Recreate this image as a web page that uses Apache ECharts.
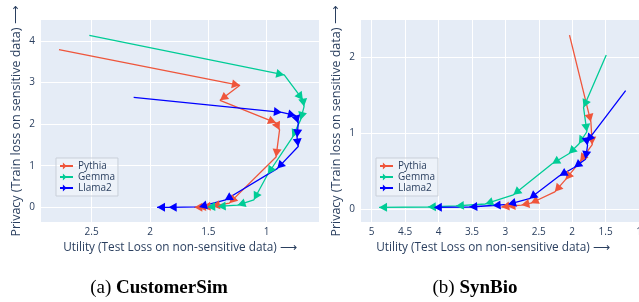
<!DOCTYPE html>
<html>
<head>
<meta charset="utf-8">
<script src="https://cdn.jsdelivr.net/npm/echarts@6/dist/echarts.min.js"></script>
<style>
  html, body { margin: 0; padding: 0; background: #fff; }
  #main { width: 639px; height: 302px; }
</style>
</head>
<body>
<div id="main"></div>
<script>
// (a) CustomerSim - points in the order they were trained
var pythiaSimX = [2.78, 1.23, 1.40, 0.92, 0.89, 0.92, 1.32, 1.47, 1.55, 1.59, 1.62];
var pythiaSimY = [3.79, 2.93, 2.57, 2.03, 1.86, 1.21, 0.10, 0.03, 0.01, 0.00, 0.00];
var gemmaSimX  = [2.52, 0.85, 0.69, 0.68, 0.71, 0.78, 0.99, 1.11, 1.25, 1.42, 1.51];
var gemmaSimY  = [4.13, 3.18, 2.58, 2.42, 2.10, 1.68, 0.80, 0.18, 0.05, 0.02, 0.01];
var llamaSimX  = [2.14, 0.87, 0.75, 0.73, 0.74, 0.73, 0.91, 1.36, 1.58, 1.84, 1.94];
var llamaSimY  = [2.64, 2.28, 2.20, 2.02, 1.68, 1.46, 0.93, 0.17, 0.01, 0.00, 0.00];

// (b) SynBio
var pythiaBioX = [2.04, 1.72, 1.70, 1.88, 2.10, 2.26, 2.62, 2.76, 2.97, 3.06];
var pythiaBioY = [2.29, 1.15, 0.85, 0.63, 0.39, 0.23, 0.08, 0.055, 0.04, 0.03];
var gemmaBioX  = [1.49, 1.83, 1.78, 1.90, 2.05, 2.30, 2.88, 3.30, 3.74, 4.16, 4.89];
var gemmaBioY  = [2.03, 1.34, 1.02, 0.86, 0.73, 0.60, 0.19, 0.07, 0.045, 0.03, 0.025];
var llamaBioX  = [1.20, 1.78, 1.77, 1.80, 1.97, 2.19, 2.64, 2.96, 3.19, 3.54, 4.07];
var llamaBioY  = [1.56, 0.89, 0.84, 0.66, 0.55, 0.44, 0.14, 0.065, 0.05, 0.03, 0.025];

var modelNames = ['Pythia', 'Gemma', 'Llama2'];
var colors = ['#EF553B', '#00CC96', '#0000FF'];

var xTitle = 'Utility (Test Loss on non-sensitive data) ⟶';
var yTitle = 'Privacy (Train loss on sensitive data) ⟶';

var font = '"Open Sans", verdana, arial, sans-serif';
var txt = '#2a3f5f';
// arrow head, tip at the centre of the box
var arrow = 'path://M0,0L-8,-4.5L-8,4.5ZM8,0L8,0.001';

var chart = echarts.init(document.getElementById('main'));

function pairs(xs, ys) {
    var out = [];
    for (var i = 0; i < xs.length; i++) out.push([xs[i], ys[i]]);
    return out;
}

function xAx(gi, min, max, split, pad, showMin) {
    return {
        type: 'value', gridIndex: gi, inverse: true, min: min, max: max, splitNumber: split,
        axisLine: {show: false}, axisTick: {show: false},
        axisLabel: {fontSize: 10, color: txt, fontFamily: font, margin: 5,
                    showMinLabel: showMin, showMaxLabel: false},
        splitLine: {lineStyle: {color: '#fff', width: 1}, showMinLine: false, showMaxLine: false},
        name: xTitle, nameLocation: 'middle', nameGap: 19,
        nameTextStyle: {fontSize: 11.8, color: txt, fontFamily: font, padding: pad}
    };
}

function yAx(gi, min, max, split) {
    return {
        type: 'value', gridIndex: gi, min: min, max: max, splitNumber: split,
        axisLine: {show: false}, axisTick: {show: false},
        axisLabel: {fontSize: 10, color: txt, fontFamily: font, margin: 6,
                    showMinLabel: false, showMaxLabel: false},
        splitLine: {lineStyle: {color: '#fff', width: 1}, showMinLine: false, showMaxLine: false},
        name: yTitle, nameLocation: 'middle', nameGap: 18,
        nameTextStyle: {fontSize: 12.5, color: txt, fontFamily: font}
    };
}

function line(name, gi, xs, ys, c) {
    return {
        name: name, type: 'line', xAxisIndex: gi, yAxisIndex: gi,
        data: pairs(xs, ys),
        symbol: arrow, symbolSize: [16, 9],
        lineStyle: {color: c, width: 1.3},
        itemStyle: {color: c, borderWidth: 0},
        emphasis: {disabled: true},
        z: 3
    };
}

function legendAt(left, top) {
    return {
        data: modelNames, orient: 'vertical', left: left, top: top,
        itemWidth: 13, itemHeight: 9, itemGap: 1, padding: [3, 3, 3, 3],
        backgroundColor: 'rgba(255,255,255,0.3)', borderColor: '#c9cfd9', borderWidth: 1,
        textStyle: {fontSize: 10, color: txt, fontFamily: font},
        selectedMode: false
    };
}

var series = [
    line('Pythia', 0, pythiaSimX, pythiaSimY, colors[0]),
    line('Gemma', 0, gemmaSimX, gemmaSimY, colors[1]),
    line('Llama2', 0, llamaSimX, llamaSimY, colors[2]),
    line('Pythia', 1, pythiaBioX, pythiaBioY, colors[0]),
    line('Gemma', 1, gemmaBioX, gemmaBioY, colors[1]),
    line('Llama2', 1, llamaBioX, llamaBioY, colors[2])
];

var captionRich = {
    n: {fontSize: 19, fontFamily: '"Liberation Serif", serif', fill: '#000'},
    b: {fontSize: 19, fontFamily: '"Liberation Serif", serif', fontWeight: 'bold', fill: '#000'}
};

chart.setOption({
    animation: false,
    grid: [
        {left: 41, top: 20, width: 278, height: 202, show: true, backgroundColor: '#E5ECF6',
         borderWidth: 0, outerBoundsMode: 'none', containLabel: false},
        {left: 361, top: 20, width: 278, height: 202, show: true, backgroundColor: '#E5ECF6',
         borderWidth: 0, outerBoundsMode: 'none', containLabel: false}
    ],
    xAxis: [xAx(0, 0.552, 2.934, 5, [0, 0, 0, 0], false), xAx(1, 1, 5.16, 8, [0, 14, 0, 0], true)],
    yAxis: [yAx(0, -0.353, 4.5, 5), yAx(1, -0.167, 2.49, 3)],
    legend: [legendAt(56, 158), legendAt(376, 158)],
    series: series,
    graphic: [
        {type: 'text', x: 159, y: 288, style: {
            text: '{n|(a) }{b|CustomerSim}', align: 'center', verticalAlign: 'middle', rich: captionRich
        }},
        {type: 'text', x: 475, y: 288, style: {
            text: '{n|(b) }{b|SynBio}', align: 'center', verticalAlign: 'middle', rich: captionRich
        }}
    ]
});

// turn each arrow to point along the path from the previous point
var xsList = [pythiaSimX, gemmaSimX, llamaSimX, pythiaBioX, gemmaBioX, llamaBioX];
var ysList = [pythiaSimY, gemmaSimY, llamaSimY, pythiaBioY, gemmaBioY, llamaBioY];
var newSeries = [];
for (var s = 0; s < xsList.length; s++) {
    var gi = s < 3 ? 0 : 1;
    var xs = xsList[s], ys = ysList[s], d = [];
    for (var i = 0; i < xs.length; i++) {
        if (i === 0) { d.push({value: [xs[i], ys[i]], symbol: 'none'}); continue; }
        var a = chart.convertToPixel({gridIndex: gi}, [xs[i - 1], ys[i - 1]]);
        var b = chart.convertToPixel({gridIndex: gi}, [xs[i], ys[i]]);
        var ang = Math.atan2(-(b[1] - a[1]), b[0] - a[0]) * 180 / Math.PI;
        d.push({value: [xs[i], ys[i]], symbolRotate: ang});
    }
    newSeries.push({data: d});
}
chart.setOption({series: newSeries});
</script>
</body>
</html>
